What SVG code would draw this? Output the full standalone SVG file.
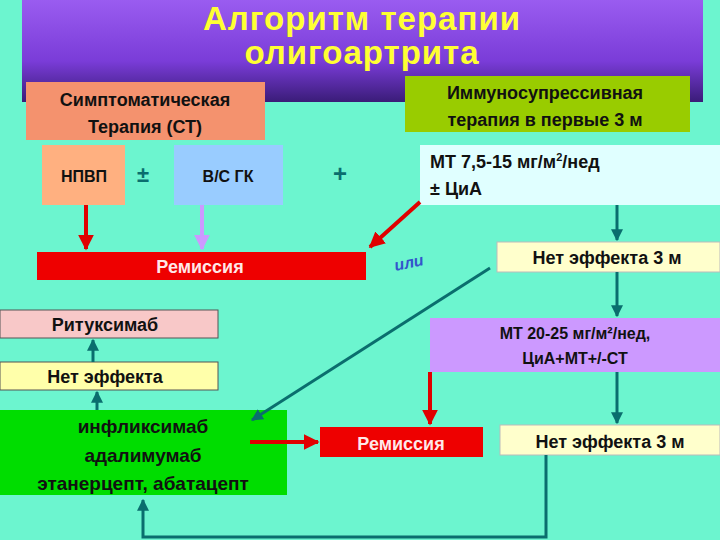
<svg xmlns="http://www.w3.org/2000/svg" width="720" height="540" viewBox="0 0 720 540">
<defs>
<linearGradient id="tg" x1="0" y1="0" x2="0" y2="1"><stop offset="0" stop-color="#9A5CF0"/><stop offset="0.6" stop-color="#7A3CD8"/><stop offset="1" stop-color="#3A1C78"/></linearGradient>
<marker id="ar" viewBox="0 0 10 10" refX="9" refY="5" markerWidth="4" markerHeight="4" orient="auto"><path d="M0,0L10,5L0,10z" fill="#E00000"/></marker>
<marker id="at" viewBox="0 0 10 10" refX="9" refY="5" markerWidth="4" markerHeight="4" orient="auto"><path d="M0,0L10,5L0,10z" fill="#0A6E6E"/></marker>
<marker id="al" viewBox="0 0 10 10" refX="9" refY="5" markerWidth="4" markerHeight="4" orient="auto"><path d="M0,0L10,5L0,10z" fill="#CC99FF"/></marker>
</defs>
<style>
text{font-family:"Liberation Sans",Arial,sans-serif;font-weight:bold;text-anchor:middle}
.t{font-size:18px;fill:#111}
.r{stroke:#E00000;stroke-width:4;fill:none;marker-end:url(#ar)}
.g{stroke:#0A6E6E;stroke-width:3;fill:none;marker-end:url(#at)}
</style>
<rect width="720" height="540" fill="#6CF5CF"/>
<g id="title"><rect x="22" y="0" width="681" height="102" fill="url(#tg)"/>
<text x="362" y="30" font-size="33" fill="#FFFF33" letter-spacing="1">Алгоритм терапии</text>
<text x="362" y="64" font-size="33" fill="#FFFF33" letter-spacing="1">олигоартрита</text></g>
<g id="ct"><rect x="26" y="82" width="239" height="58" fill="#F4926E"/>
<text class="t" x="145" y="106">Симптоматическая</text><text class="t" x="145" y="133">Терапия (СТ)</text></g>
<g id="ist"><rect x="405" y="76" width="285" height="56" fill="#99CC00"/>
<text class="t" x="545" y="99">Иммуносупрессивная</text><text class="t" x="545" y="126">терапия в первые 3 м</text></g>
<g id="npvp"><rect x="42" y="145" width="83" height="60" fill="#FFB080"/><text x="84" y="182" font-size="16" fill="#111">НПВП</text></g>
<text x="143" y="182" font-size="22" fill="#0A6E6E">±</text>
<g id="gk"><rect x="174" y="145" width="109" height="60" fill="#99CCFF"/><text x="228" y="182" font-size="16" fill="#111">В/С ГК</text></g>
<text x="340" y="182" font-size="24" fill="#0A6E6E">+</text>
<g id="mt"><rect x="420" y="145" width="300" height="60" fill="#E0FFFF"/>
<text class="t" x="430" y="168" style="text-anchor:start">МТ 7,5-15 мг/м<tspan font-size="11" dy="-7">2</tspan><tspan dy="7">/нед</tspan></text>
<text class="t" x="430" y="195" style="text-anchor:start">± ЦиА</text></g>
<g id="rem1"><rect x="37" y="252" width="329" height="28" fill="#EE0000"/><text x="200" y="273" font-size="18" fill="#FFE8E8">Ремиссия</text></g>
<text x="410" y="268" font-size="16" fill="#3355CC" font-style="italic" transform="rotate(-12 410 268)">или</text>
<g id="ne1"><rect x="497" y="242" width="223" height="30" fill="#FFFFCC" stroke="#bbb"/><text class="t" x="607" y="264">Нет эффекта 3 м</text></g>
<g id="rit"><rect x="0" y="310" width="218" height="28" fill="#F8C8C8" stroke="#555"/><text class="t" x="105" y="331">Ритуксимаб</text></g>
<g id="ne0"><rect x="0" y="362" width="218" height="28" fill="#FFFFAA" stroke="#555"/><text class="t" x="105" y="383">Нет эффекта</text></g>
<g id="mt2"><rect x="430" y="318" width="290" height="54" fill="#CC99FF"/>
<text x="575" y="339" font-size="16" fill="#111">МТ 20-25 мг/м²/нед,</text><text x="575" y="364" font-size="16" fill="#111">ЦиА+МТ+/-СТ</text></g>
<g id="bio"><rect x="0" y="410" width="287" height="85" fill="#00DD00"/>
<text x="143" y="433" font-size="19" fill="#111">инфликсимаб</text><text x="143" y="462" font-size="19" fill="#111">адалимумаб</text><text x="143" y="490" font-size="19" fill="#111">этанерцепт, абатацепт</text></g>
<g id="rem2"><rect x="320" y="427" width="163" height="30" fill="#EE0000"/><text x="401" y="450" font-size="18" fill="#FFE8E8">Ремиссия</text></g>
<g id="ne2"><rect x="500" y="425" width="220" height="30" fill="#FFFFCC" stroke="#bbb"/><text class="t" x="610" y="448">Нет эффекта 3 м</text></g>
<g id="connectors">
<line class="r" x1="86" y1="205" x2="86" y2="249"/>
<line x1="202" y1="205" x2="202" y2="249" stroke="#CC99FF" stroke-width="4" marker-end="url(#al)"/>
<line class="r" x1="420" y1="202" x2="370" y2="247"/>
<line class="g" x1="617" y1="205" x2="617" y2="240"/>
<line class="g" x1="490" y1="268" x2="252" y2="420"/>
<line class="g" x1="617" y1="272" x2="617" y2="316"/>
<line class="r" x1="430" y1="372" x2="430" y2="424"/>
<line class="g" x1="617" y1="372" x2="617" y2="423"/>
<line class="r" x1="250" y1="442" x2="318" y2="442"/>
<line class="g" x1="93" y1="362" x2="93" y2="340"/>
<line class="g" x1="97" y1="410" x2="97" y2="392"/>
<polyline class="g" points="546,455 546,537 143,537 143,500"/>
</g>
</svg>
